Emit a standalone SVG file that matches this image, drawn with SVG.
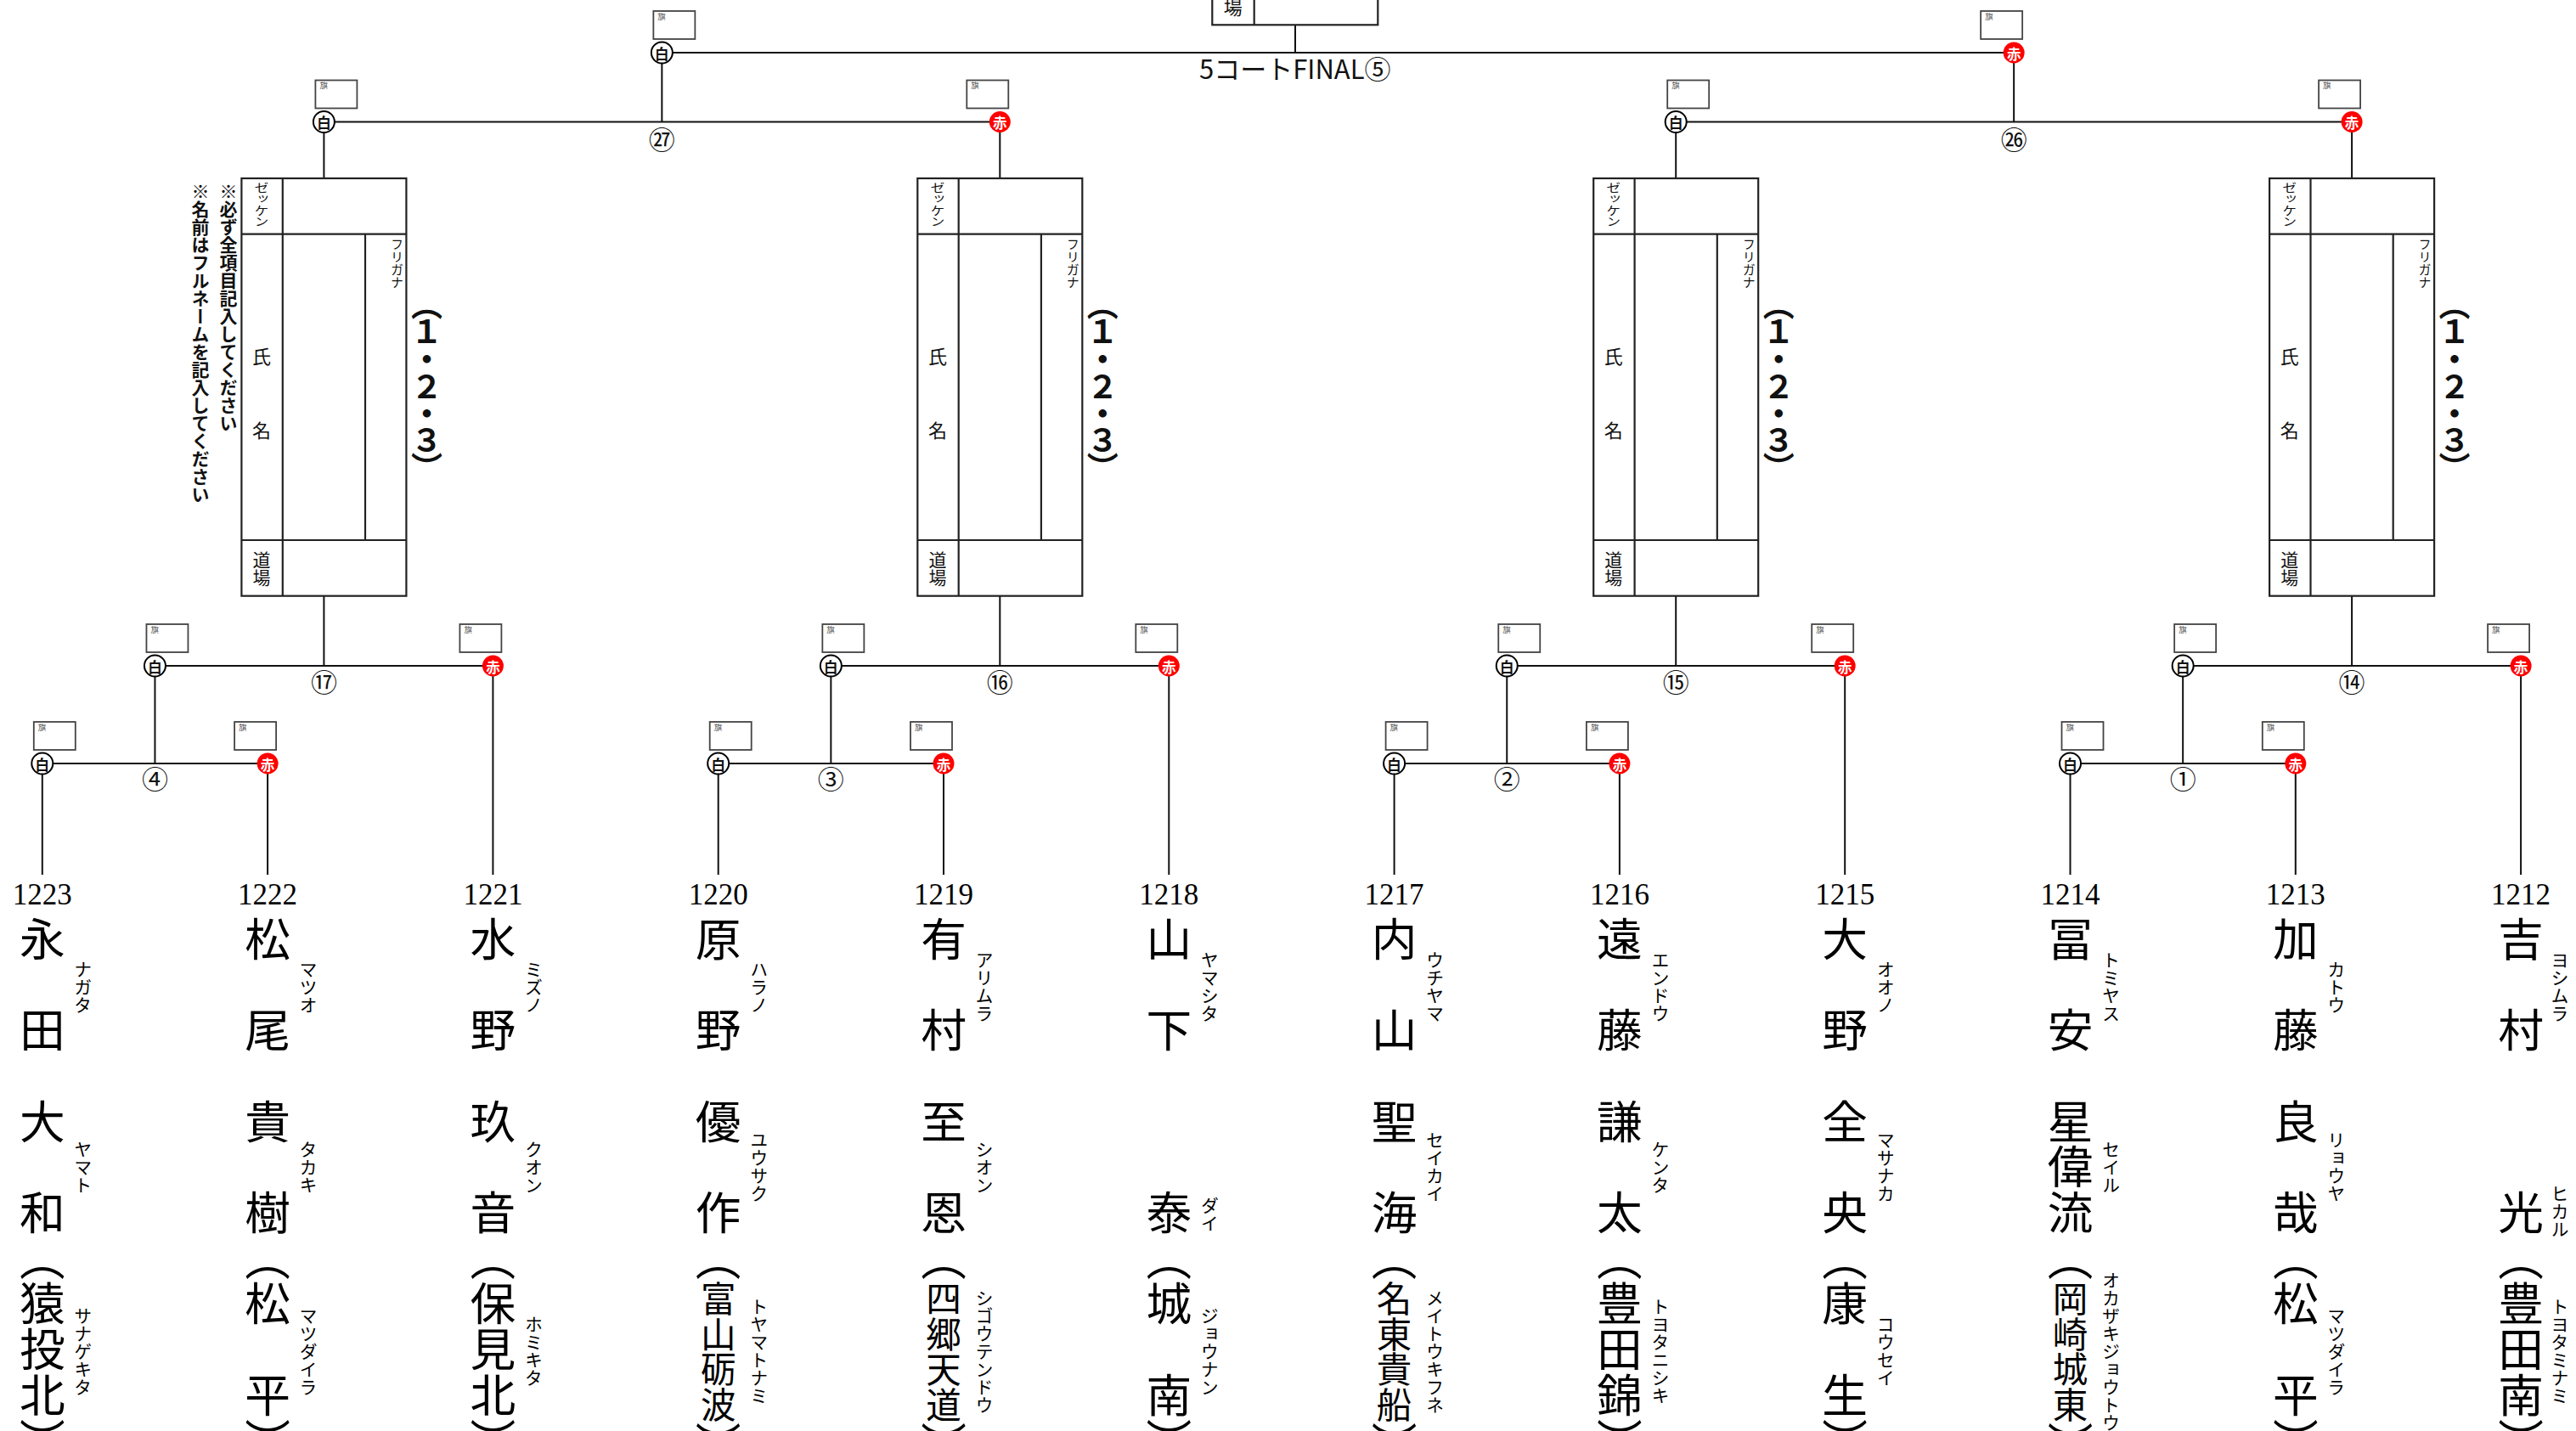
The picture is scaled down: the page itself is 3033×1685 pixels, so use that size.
<svg xmlns="http://www.w3.org/2000/svg" width="3033" height="1685" viewBox="0 0 3033 1685">
<style>
text{font-family:"Noto Sans CJK JP","Noto Sans",sans-serif;fill:#111}
.cn path{stroke:#111;stroke-width:2;fill:none}
.flag rect{fill:#fff;stroke:#444;stroke-width:1.8}
.flag text{font-size:9.5px;fill:#555}
.mk text{font-size:16.5px;font-weight:700;text-anchor:middle;dominant-baseline:central}
.w circle{fill:#fff;stroke:#000;stroke-width:2}
.r circle{fill:#f00}
.r text{fill:#fff}
.mn{font-size:31px;text-anchor:middle;dominant-baseline:central}
.card rect{fill:none;stroke:#222;stroke-width:2.2}
.card path{stroke:#222;stroke-width:2.2;fill:none}
.v{writing-mode:vertical-rl}
.cl{font-size:22px;text-anchor:middle;dominant-baseline:central}
.big{font-size:37px;font-weight:700;letter-spacing:-5px;text-anchor:middle}
.note{font-size:21px;font-weight:700}
.num{font-family:"Liberation Serif",serif;font-size:35px;text-anchor:middle;fill:#000}
.kj{font-size:53.7px;fill:#000}
.k4{font-size:41.5px}
.fu{font-size:21px;text-anchor:middle;fill:#000}
.lbl{font-size:31px}
</style>

<g id="connectors" class="cn">
<path d="M1525,29.3V62M779.35,62H2371.15"/>
<path d="M779.35,62V143.5M2371.15,62V143.5M381.4,143.5H1177.3M1973.2,143.5H2769.1"/>
<path d="M381.4,143.5V210M381.4,701.7V784M1177.3,143.5V210M1177.3,701.7V784M1973.2,143.5V210M1973.2,701.7V784M2769.1,143.5V210M2769.1,701.7V784"/>
<path d="M182.45,784H580.4M978.35,784H1376.3M1774.25,784H2172.2M2570.15,784H2968.1"/>
<path d="M182.45,784V899M978.35,784V899M1774.25,784V899M2570.15,784V899"/>
<path d="M49.8,899H315.1M845.7,899H1111M1641.6,899H1906.9M2437.5,899H2702.8"/>
<path d="M49.8,899V1030M315.1,899V1030M580.4,784V1030M845.7,899V1030M1111,899V1030M1376.3,784V1030M1641.6,899V1030M1906.9,899V1030M2172.2,784V1030M2437.5,899V1030M2702.8,899V1030M2968.1,784V1030"/>
</g>

<g id="final">
<g class="card"><rect x="1427.3" y="-60" width="195" height="89.3"/><path d="M1476.7,-60V29.3"/></g>
<text class="cl" x="1451.7" y="6.5">場</text>
<text class="lbl" x="1412" y="93">5コートFINAL⑤</text>
<g class="flag" transform="translate(779.35,62)"><rect x="-10" y="-49" width="49" height="33"/><text x="-5" y="-39.5">旗</text></g>
<g class="mk w" transform="translate(779.35,62)"><circle r="12.5"/><text y="0.5">白</text></g>
<g class="flag" transform="translate(2371.15,62)"><rect x="-39" y="-49" width="49" height="33"/><text x="-34" y="-39.5">旗</text></g>
<g class="mk r" transform="translate(2371.15,62)"><circle r="12.5"/><text y="0.5">赤</text></g>
</g>

<g id="m27">
<g class="flag" transform="translate(381.4,143.5)"><rect x="-10" y="-49" width="49" height="33"/><text x="-5" y="-39.5">旗</text></g>
<g class="mk w" transform="translate(381.4,143.5)"><circle r="12.5"/><text y="0.5">白</text></g>
<g class="flag" transform="translate(1177.3,143.5)"><rect x="-39" y="-49" width="49" height="33"/><text x="-34" y="-39.5">旗</text></g>
<g class="mk r" transform="translate(1177.3,143.5)"><circle r="12.5"/><text y="0.5">赤</text></g>
<text class="mn" x="779.35" y="162">㉗</text>
</g>
<g id="m26">
<g class="flag" transform="translate(1973.2,143.5)"><rect x="-10" y="-49" width="49" height="33"/><text x="-5" y="-39.5">旗</text></g>
<g class="mk w" transform="translate(1973.2,143.5)"><circle r="12.5"/><text y="0.5">白</text></g>
<g class="flag" transform="translate(2769.1,143.5)"><rect x="-39" y="-49" width="49" height="33"/><text x="-34" y="-39.5">旗</text></g>
<g class="mk r" transform="translate(2769.1,143.5)"><circle r="12.5"/><text y="0.5">赤</text></g>
<text class="mn" x="2371.15" y="162">㉖</text>
</g>

<g id="notes">
<text class="v note" x="269" y="215">※必ず全項目記入してください</text>
<text class="v note" x="236" y="215">※名前はフルネームを記入してください</text>
</g>

<g id="card1" class="card" transform="translate(381.4,0)">
<rect x="-97" y="210" width="194" height="491.7"/>
<path d="M-48.6,210V701.7M-97,275.7H97M-97,636H97M48.6,275.7V636"/>
<text class="v" x="-73.4" y="214" style="font-size:17px" textLength="54" lengthAdjust="spacingAndGlyphs">ゼッケン</text>
<text class="v" x="86" y="280" style="font-size:15px">フリガナ</text>
<text class="cl" x="-73.4" y="418">氏</text>
<text class="cl" x="-73.4" y="505">名</text>
<text class="v" x="-73.4" y="649" style="font-size:21px">道場</text>
<text class="v big" x="121" y="452">（１・２・３）</text>
</g>
<g id="card2" class="card" transform="translate(1177.3,0)">
<rect x="-97" y="210" width="194" height="491.7"/>
<path d="M-48.6,210V701.7M-97,275.7H97M-97,636H97M48.6,275.7V636"/>
<text class="v" x="-73.4" y="214" style="font-size:17px" textLength="54" lengthAdjust="spacingAndGlyphs">ゼッケン</text>
<text class="v" x="86" y="280" style="font-size:15px">フリガナ</text>
<text class="cl" x="-73.4" y="418">氏</text>
<text class="cl" x="-73.4" y="505">名</text>
<text class="v" x="-73.4" y="649" style="font-size:21px">道場</text>
<text class="v big" x="121" y="452">（１・２・３）</text>
</g>
<g id="card3" class="card" transform="translate(1973.2,0)">
<rect x="-97" y="210" width="194" height="491.7"/>
<path d="M-48.6,210V701.7M-97,275.7H97M-97,636H97M48.6,275.7V636"/>
<text class="v" x="-73.4" y="214" style="font-size:17px" textLength="54" lengthAdjust="spacingAndGlyphs">ゼッケン</text>
<text class="v" x="86" y="280" style="font-size:15px">フリガナ</text>
<text class="cl" x="-73.4" y="418">氏</text>
<text class="cl" x="-73.4" y="505">名</text>
<text class="v" x="-73.4" y="649" style="font-size:21px">道場</text>
<text class="v big" x="121" y="452">（１・２・３）</text>
</g>
<g id="card4" class="card" transform="translate(2769.1,0)">
<rect x="-97" y="210" width="194" height="491.7"/>
<path d="M-48.6,210V701.7M-97,275.7H97M-97,636H97M48.6,275.7V636"/>
<text class="v" x="-73.4" y="214" style="font-size:17px" textLength="54" lengthAdjust="spacingAndGlyphs">ゼッケン</text>
<text class="v" x="86" y="280" style="font-size:15px">フリガナ</text>
<text class="cl" x="-73.4" y="418">氏</text>
<text class="cl" x="-73.4" y="505">名</text>
<text class="v" x="-73.4" y="649" style="font-size:21px">道場</text>
<text class="v big" x="121" y="452">（１・２・３）</text>
</g>

<g id="m17">
<g class="flag" transform="translate(182.45,784)"><rect x="-10" y="-49" width="49" height="33"/><text x="-5" y="-39.5">旗</text></g>
<g class="mk w" transform="translate(182.45,784)"><circle r="12.5"/><text y="0.5">白</text></g>
<g class="flag" transform="translate(580.4,784)"><rect x="-39" y="-49" width="49" height="33"/><text x="-34" y="-39.5">旗</text></g>
<g class="mk r" transform="translate(580.4,784)"><circle r="12.5"/><text y="0.5">赤</text></g>
<text class="mn" x="381.4" y="801">⑰</text>
</g>
<g id="m16">
<g class="flag" transform="translate(978.35,784)"><rect x="-10" y="-49" width="49" height="33"/><text x="-5" y="-39.5">旗</text></g>
<g class="mk w" transform="translate(978.35,784)"><circle r="12.5"/><text y="0.5">白</text></g>
<g class="flag" transform="translate(1376.3,784)"><rect x="-39" y="-49" width="49" height="33"/><text x="-34" y="-39.5">旗</text></g>
<g class="mk r" transform="translate(1376.3,784)"><circle r="12.5"/><text y="0.5">赤</text></g>
<text class="mn" x="1177.3" y="801">⑯</text>
</g>
<g id="m15">
<g class="flag" transform="translate(1774.25,784)"><rect x="-10" y="-49" width="49" height="33"/><text x="-5" y="-39.5">旗</text></g>
<g class="mk w" transform="translate(1774.25,784)"><circle r="12.5"/><text y="0.5">白</text></g>
<g class="flag" transform="translate(2172.2,784)"><rect x="-39" y="-49" width="49" height="33"/><text x="-34" y="-39.5">旗</text></g>
<g class="mk r" transform="translate(2172.2,784)"><circle r="12.5"/><text y="0.5">赤</text></g>
<text class="mn" x="1973.2" y="801">⑮</text>
</g>
<g id="m14">
<g class="flag" transform="translate(2570.15,784)"><rect x="-10" y="-49" width="49" height="33"/><text x="-5" y="-39.5">旗</text></g>
<g class="mk w" transform="translate(2570.15,784)"><circle r="12.5"/><text y="0.5">白</text></g>
<g class="flag" transform="translate(2968.1,784)"><rect x="-39" y="-49" width="49" height="33"/><text x="-34" y="-39.5">旗</text></g>
<g class="mk r" transform="translate(2968.1,784)"><circle r="12.5"/><text y="0.5">赤</text></g>
<text class="mn" x="2769.1" y="801">⑭</text>
</g>

<g id="m4">
<g class="flag" transform="translate(49.8,899)"><rect x="-10" y="-49" width="49" height="33"/><text x="-5" y="-39.5">旗</text></g>
<g class="mk w" transform="translate(49.8,899)"><circle r="12.5"/><text y="0.5">白</text></g>
<g class="flag" transform="translate(315.1,899)"><rect x="-39" y="-49" width="49" height="33"/><text x="-34" y="-39.5">旗</text></g>
<g class="mk r" transform="translate(315.1,899)"><circle r="12.5"/><text y="0.5">赤</text></g>
<text class="mn" x="182.45" y="915">④</text>
</g>
<g id="m3">
<g class="flag" transform="translate(845.7,899)"><rect x="-10" y="-49" width="49" height="33"/><text x="-5" y="-39.5">旗</text></g>
<g class="mk w" transform="translate(845.7,899)"><circle r="12.5"/><text y="0.5">白</text></g>
<g class="flag" transform="translate(1111,899)"><rect x="-39" y="-49" width="49" height="33"/><text x="-34" y="-39.5">旗</text></g>
<g class="mk r" transform="translate(1111,899)"><circle r="12.5"/><text y="0.5">赤</text></g>
<text class="mn" x="978.35" y="915">③</text>
</g>
<g id="m2">
<g class="flag" transform="translate(1641.6,899)"><rect x="-10" y="-49" width="49" height="33"/><text x="-5" y="-39.5">旗</text></g>
<g class="mk w" transform="translate(1641.6,899)"><circle r="12.5"/><text y="0.5">白</text></g>
<g class="flag" transform="translate(1906.9,899)"><rect x="-39" y="-49" width="49" height="33"/><text x="-34" y="-39.5">旗</text></g>
<g class="mk r" transform="translate(1906.9,899)"><circle r="12.5"/><text y="0.5">赤</text></g>
<text class="mn" x="1774.25" y="915">②</text>
</g>
<g id="m1">
<g class="flag" transform="translate(2437.5,899)"><rect x="-10" y="-49" width="49" height="33"/><text x="-5" y="-39.5">旗</text></g>
<g class="mk w" transform="translate(2437.5,899)"><circle r="12.5"/><text y="0.5">白</text></g>
<g class="flag" transform="translate(2702.8,899)"><rect x="-39" y="-49" width="49" height="33"/><text x="-34" y="-39.5">旗</text></g>
<g class="mk r" transform="translate(2702.8,899)"><circle r="12.5"/><text y="0.5">赤</text></g>
<text class="mn" x="2570.15" y="915">①</text>
</g>

<g id="p1223" transform="translate(49.8,0)">
<text class="num" y="1065">1223</text>
<text class="v kj" y="1078.6">永　田　大　和</text>
<text class="v kj" y="1454.5">（猿投北）</text>
<text class="v fu" x="48" y="1162">ナガタ</text>
<text class="v fu" x="48" y="1374">ヤマト</text>
<text class="v fu" x="48" y="1591">サナゲキタ</text>
</g>
<g id="p1222" transform="translate(315.1,0)">
<text class="num" y="1065">1222</text>
<text class="v kj" y="1078.6">松　尾　貴　樹</text>
<text class="v kj" y="1454.5">（松　平）</text>
<text class="v fu" x="48" y="1162">マツオ</text>
<text class="v fu" x="48" y="1374">タカキ</text>
<text class="v fu" x="48" y="1591">マツダイラ</text>
</g>
<g id="p1221" transform="translate(580.4,0)">
<text class="num" y="1065">1221</text>
<text class="v kj" y="1078.6">水　野　玖　音</text>
<text class="v kj" y="1454.5">（保見北）</text>
<text class="v fu" x="48" y="1162">ミズノ</text>
<text class="v fu" x="48" y="1374">クオン</text>
<text class="v fu" x="48" y="1591">ホミキタ</text>
</g>
<g id="p1220" transform="translate(845.7,0)">
<text class="num" y="1065">1220</text>
<text class="v kj" y="1078.6">原　野　優　作</text>
<text class="v kj" y="1454.5">（<tspan class="k4">富山砺波</tspan>）</text>
<text class="v fu" x="48" y="1162">ハラノ</text>
<text class="v fu" x="48" y="1374">ユウサク</text>
<text class="v fu" x="48" y="1591">トヤマトナミ</text>
</g>
<g id="p1219" transform="translate(1111,0)">
<text class="num" y="1065">1219</text>
<text class="v kj" y="1078.6">有　村　至　恩</text>
<text class="v kj" y="1454.5">（<tspan class="k4">四郷天道</tspan>）</text>
<text class="v fu" x="48" y="1162">アリムラ</text>
<text class="v fu" x="48" y="1374">シオン</text>
<text class="v fu" x="48" y="1591">シゴウテンドウ</text>
</g>
<g id="p1218" transform="translate(1376.3,0)">
<text class="num" y="1065">1218</text>
<text class="v kj" y="1078.6">山　下　　　泰</text>
<text class="v kj" y="1454.5">（城　南）</text>
<text class="v fu" x="48" y="1162">ヤマシタ</text>
<text class="v fu" x="48" y="1430">ダイ</text>
<text class="v fu" x="48" y="1591">ジョウナン</text>
</g>
<g id="p1217" transform="translate(1641.6,0)">
<text class="num" y="1065">1217</text>
<text class="v kj" y="1078.6">内　山　聖　海</text>
<text class="v kj" y="1454.5">（<tspan class="k4">名東貴船</tspan>）</text>
<text class="v fu" x="48" y="1162">ウチヤマ</text>
<text class="v fu" x="48" y="1374">セイカイ</text>
<text class="v fu" x="48" y="1591">メイトウキフネ</text>
</g>
<g id="p1216" transform="translate(1906.9,0)">
<text class="num" y="1065">1216</text>
<text class="v kj" y="1078.6">遠　藤　謙　太</text>
<text class="v kj" y="1454.5">（豊田錦）</text>
<text class="v fu" x="48" y="1162">エンドウ</text>
<text class="v fu" x="48" y="1374">ケンタ</text>
<text class="v fu" x="48" y="1591">トヨタニシキ</text>
</g>
<g id="p1215" transform="translate(2172.2,0)">
<text class="num" y="1065">1215</text>
<text class="v kj" y="1078.6">大　野　全　央</text>
<text class="v kj" y="1454.5">（康　生）</text>
<text class="v fu" x="48" y="1162">オオノ</text>
<text class="v fu" x="48" y="1374">マサナカ</text>
<text class="v fu" x="48" y="1591">コウセイ</text>
</g>
<g id="p1214" transform="translate(2437.5,0)">
<text class="num" y="1065">1214</text>
<text class="v kj" y="1078.6">冨　安　星偉流</text>
<text class="v kj" y="1454.5">（<tspan class="k4">岡崎城東</tspan>）</text>
<text class="v fu" x="48" y="1162">トミヤス</text>
<text class="v fu" x="48" y="1374">セイル</text>
<text class="v fu" x="48" y="1591">オカザキジョウトウ</text>
</g>
<g id="p1213" transform="translate(2702.8,0)">
<text class="num" y="1065">1213</text>
<text class="v kj" y="1078.6">加　藤　良　哉</text>
<text class="v kj" y="1454.5">（松　平）</text>
<text class="v fu" x="48" y="1162">カトウ</text>
<text class="v fu" x="48" y="1374">リョウヤ</text>
<text class="v fu" x="48" y="1591">マツダイラ</text>
</g>
<g id="p1212" transform="translate(2968.1,0)">
<text class="num" y="1065">1212</text>
<text class="v kj" y="1078.6">吉　村　　　光</text>
<text class="v kj" y="1454.5">（豊田南）</text>
<text class="v fu" x="46" y="1162">ヨシムラ</text>
<text class="v fu" x="46" y="1426">ヒカル</text>
<text class="v fu" x="46" y="1591">トヨタミナミ</text>
</g>
</svg>
